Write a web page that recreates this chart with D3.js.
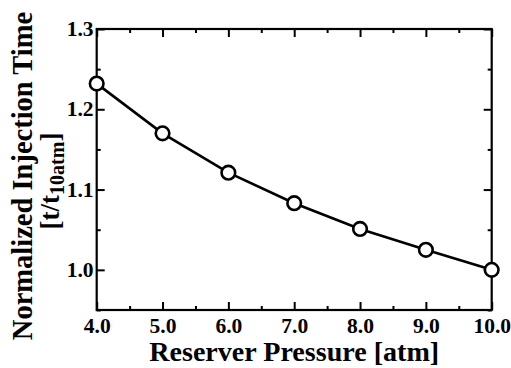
<!DOCTYPE html>
<html>
<head>
<meta charset="utf-8">
<script src="https://cdn.jsdelivr.net/npm/d3@7"></script>
<style>
  body { margin: 0; background: #fff; }
  svg text { font-family: "Liberation Serif", "Times New Roman", serif; font-weight: bold; fill: #000; }
</style>
</head>
<body>
<svg id="chart" width="511" height="368"></svg>
<script>
// Normalized injection time versus reservoir pressure
const pressures = [4.0, 5.0, 6.0, 7.0, 8.0, 9.0, 10.0];
const injectionTime = [1.232, 1.170, 1.121, 1.083, 1.051, 1.025, 1.000];
const xMajorTicks = [4, 5, 6, 7, 8, 9, 10];
const xMinorTicks = [4.5, 5.5, 6.5, 7.5, 8.5, 9.5];
const yMajorTicks = [1.0, 1.1, 1.2, 1.3];
const yMinorTicks = [0.95, 1.05, 1.15, 1.25];
const xTitle = "Reserver Pressure [atm]";
const yTitle = "Normalized Injection Time";

const svg = d3.select("#chart");
const plot = { left: 96.7, right: 491.7, top: 29, bottom: 310 };

const x = d3.scaleLinear().domain([4, 10]).range([plot.left, plot.right]);
const y = d3.scaleLinear().domain([0.95, 1.3]).range([plot.bottom, plot.top]);

const fmt = d3.format(".1f");
const MAJOR = 8, MINOR = 4;
const SERIF = '"Liberation Serif", "Times New Roman", serif';

function styleAxis(g) {
  g.attr("font-family", SERIF).attr("font-size", 20.5).attr("font-weight", "bold");
  g.select(".domain").remove();
  g.selectAll(".tick line").attr("stroke", "#000").attr("stroke-width", 2);
  g.selectAll(".tick text")
    .attr("fill", "#000")
    .attr("transform", "scale(1.05,1)")
    .style("font-family", SERIF).style("font-size", "20.5px").style("font-weight", "bold");
}

// bottom axis with labels, ticks pointing inward
svg.append("g")
  .attr("transform", `translate(0,${plot.bottom})`)
  .call(d3.axisBottom(x).tickValues(xMajorTicks).tickSize(-MAJOR).tickPadding(8).tickFormat(fmt))
  .call(styleAxis);
svg.append("g")
  .attr("transform", `translate(0,${plot.bottom})`)
  .call(d3.axisBottom(x).tickValues(xMinorTicks).tickSize(-MINOR).tickFormat(""))
  .call(styleAxis);

// top axis, ticks only
svg.append("g")
  .attr("transform", `translate(0,${plot.top})`)
  .call(d3.axisTop(x).tickValues(xMajorTicks).tickSize(-MAJOR).tickFormat(""))
  .call(styleAxis);
svg.append("g")
  .attr("transform", `translate(0,${plot.top})`)
  .call(d3.axisTop(x).tickValues(xMinorTicks).tickSize(-MINOR).tickFormat(""))
  .call(styleAxis);

// left axis with labels
svg.append("g")
  .attr("transform", `translate(${plot.left},0)`)
  .call(d3.axisLeft(y).tickValues(yMajorTicks).tickSize(-MAJOR).tickPadding(3).tickFormat(fmt))
  .call(styleAxis);
svg.append("g")
  .attr("transform", `translate(${plot.left},0)`)
  .call(d3.axisLeft(y).tickValues(yMinorTicks).tickSize(-MINOR).tickFormat(""))
  .call(styleAxis);

// right axis, ticks only
svg.append("g")
  .attr("transform", `translate(${plot.right},0)`)
  .call(d3.axisRight(y).tickValues(yMajorTicks).tickSize(-MAJOR).tickFormat(""))
  .call(styleAxis);
svg.append("g")
  .attr("transform", `translate(${plot.right},0)`)
  .call(d3.axisRight(y).tickValues(yMinorTicks).tickSize(-MINOR).tickFormat(""))
  .call(styleAxis);

// frame
svg.append("rect")
  .attr("x", plot.left).attr("y", plot.top)
  .attr("width", plot.right - plot.left).attr("height", plot.bottom - plot.top)
  .attr("fill", "none").attr("stroke", "#000").attr("stroke-width", 2.2);

// data line and markers
const data = pressures.map((p, i) => ({ p, t: injectionTime[i] }));
svg.append("path")
  .datum(data)
  .attr("fill", "none").attr("stroke", "#000").attr("stroke-width", 2.6)
  .attr("d", d3.line().x(d => x(d.p)).y(d => y(d.t)));
svg.append("g").selectAll("circle")
  .data(data).join("circle")
  .attr("cx", d => x(d.p)).attr("cy", d => y(d.t)).attr("r", 6.8)
  .attr("fill", "#fff").attr("stroke", "#000").attr("stroke-width", 2.6);

// x axis title
svg.append("text")
  .attr("transform", `translate(${(plot.left + plot.right) / 2},361) scale(1.04,1)`)
  .attr("text-anchor", "middle").style("font-size", "27px")
  .text(xTitle);

// y axis title, two lines
const yt = svg.append("g").attr("transform", "rotate(-90)");
yt.append("text")
  .attr("x", -176).attr("y", 32)
  .attr("text-anchor", "middle").style("font-size", "28.5px")
  .text(yTitle);
const sub = yt.append("text")
  .attr("x", -181).attr("y", 59)
  .attr("text-anchor", "middle").style("font-size", "27px");
sub.append("tspan").text("[t/t");
sub.append("tspan").attr("dy", 5).style("font-size", "20px").text("10atm");
sub.append("tspan").attr("dy", -5).text("]");
</script>
</body>
</html>
